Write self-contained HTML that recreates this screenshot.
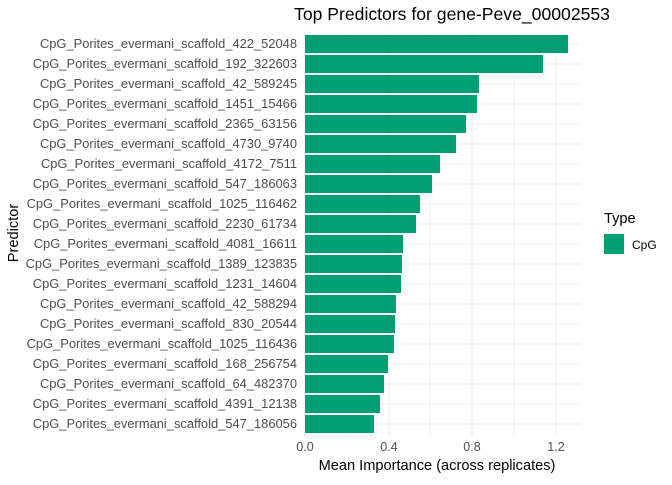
<!DOCTYPE html>
<html><head><style>body{margin:0;background:#fff}</style></head><body>
<svg width="672" height="480" xmlns="http://www.w3.org/2000/svg" font-family="Liberation Sans, sans-serif">
<rect width="672" height="480" fill="#fff"/>
<g stroke="#ebebeb" stroke-width="0.6">
<line x1="346" y1="31" x2="346" y2="437"/><line x1="430" y1="31" x2="430" y2="437"/><line x1="514" y1="31" x2="514" y2="437"/>
</g>
<g stroke="#ebebeb" stroke-width="1.1">
<line x1="305" y1="31" x2="305" y2="437"/><line x1="389" y1="31" x2="389" y2="437"/><line x1="472" y1="31" x2="472" y2="437"/><line x1="556" y1="31" x2="556" y2="437"/>
<line x1="305" y1="44" x2="581" y2="44"/><line x1="305" y1="64" x2="581" y2="64"/><line x1="305" y1="84" x2="581" y2="84"/><line x1="305" y1="104" x2="581" y2="104"/><line x1="305" y1="124" x2="581" y2="124"/><line x1="305" y1="144" x2="581" y2="144"/><line x1="305" y1="164" x2="581" y2="164"/><line x1="305" y1="184" x2="581" y2="184"/><line x1="305" y1="204" x2="581" y2="204"/><line x1="305" y1="224" x2="581" y2="224"/><line x1="305" y1="244" x2="581" y2="244"/><line x1="305" y1="264" x2="581" y2="264"/><line x1="305" y1="284" x2="581" y2="284"/><line x1="305" y1="304" x2="581" y2="304"/><line x1="305" y1="324" x2="581" y2="324"/><line x1="305" y1="344" x2="581" y2="344"/><line x1="305" y1="364" x2="581" y2="364"/><line x1="305" y1="384" x2="581" y2="384"/><line x1="305" y1="404" x2="581" y2="404"/><line x1="305" y1="424" x2="581" y2="424"/>
</g>
<g fill="#009e73">
<rect x="305" y="35" width="263" height="18"/>
<rect x="305" y="55" width="238" height="18"/>
<rect x="305" y="75" width="174" height="18"/>
<rect x="305" y="95" width="172" height="18"/>
<rect x="305" y="115" width="161" height="18"/>
<rect x="305" y="135" width="151" height="18"/>
<rect x="305" y="155" width="135" height="18"/>
<rect x="305" y="175" width="127" height="18"/>
<rect x="305" y="195" width="115" height="18"/>
<rect x="305" y="215" width="111" height="18"/>
<rect x="305" y="235" width="98" height="18"/>
<rect x="305" y="255" width="97" height="18"/>
<rect x="305" y="275" width="96" height="18"/>
<rect x="305" y="295" width="91" height="18"/>
<rect x="305" y="315" width="90" height="18"/>
<rect x="305" y="335" width="89" height="18"/>
<rect x="305" y="355" width="83" height="18"/>
<rect x="305" y="375" width="79" height="18"/>
<rect x="305" y="395" width="75" height="18"/>
<rect x="305" y="415" width="69" height="18"/>
</g>
<g fill="#4d4d4d" font-size="12.9" text-anchor="end">
<text x="297" y="48">CpG_Porites_evermani_scaffold_422_52048</text>
<text x="297" y="68">CpG_Porites_evermani_scaffold_192_322603</text>
<text x="297" y="88">CpG_Porites_evermani_scaffold_42_589245</text>
<text x="297" y="108">CpG_Porites_evermani_scaffold_1451_15466</text>
<text x="297" y="128">CpG_Porites_evermani_scaffold_2365_63156</text>
<text x="297" y="148">CpG_Porites_evermani_scaffold_4730_9740</text>
<text x="297" y="168">CpG_Porites_evermani_scaffold_4172_7511</text>
<text x="297" y="188">CpG_Porites_evermani_scaffold_547_186063</text>
<text x="297" y="208">CpG_Porites_evermani_scaffold_1025_116462</text>
<text x="297" y="228">CpG_Porites_evermani_scaffold_2230_61734</text>
<text x="297" y="248">CpG_Porites_evermani_scaffold_4081_16611</text>
<text x="297" y="268">CpG_Porites_evermani_scaffold_1389_123835</text>
<text x="297" y="288">CpG_Porites_evermani_scaffold_1231_14604</text>
<text x="297" y="308">CpG_Porites_evermani_scaffold_42_588294</text>
<text x="297" y="328">CpG_Porites_evermani_scaffold_830_20544</text>
<text x="297" y="348">CpG_Porites_evermani_scaffold_1025_116436</text>
<text x="297" y="368">CpG_Porites_evermani_scaffold_168_256754</text>
<text x="297" y="388">CpG_Porites_evermani_scaffold_64_482370</text>
<text x="297" y="408">CpG_Porites_evermani_scaffold_4391_12138</text>
<text x="297" y="428">CpG_Porites_evermani_scaffold_547_186056</text>
</g>
<g fill="#4d4d4d" font-size="12.5" text-anchor="middle">
<text x="305" y="451">0.0</text><text x="389" y="451">0.4</text><text x="472" y="451">0.8</text><text x="556" y="451">1.2</text>
</g>
<text x="437" y="470" font-size="14.6" text-anchor="middle" fill="#000">Mean Importance (across replicates)</text>
<text transform="translate(18,233) rotate(-90)" font-size="14.6" text-anchor="middle" fill="#000">Predictor</text>
<text x="452" y="20" font-size="17.6" text-anchor="middle" fill="#000">Top Predictors for gene-Peve_00002553</text>
<text x="604" y="223" font-size="14.6" fill="#000">Type</text>
<rect x="604" y="234" width="20" height="20" fill="#009e73"/>
<text x="632" y="249" font-size="12" fill="#000">CpG</text>
</svg>
</body></html>
